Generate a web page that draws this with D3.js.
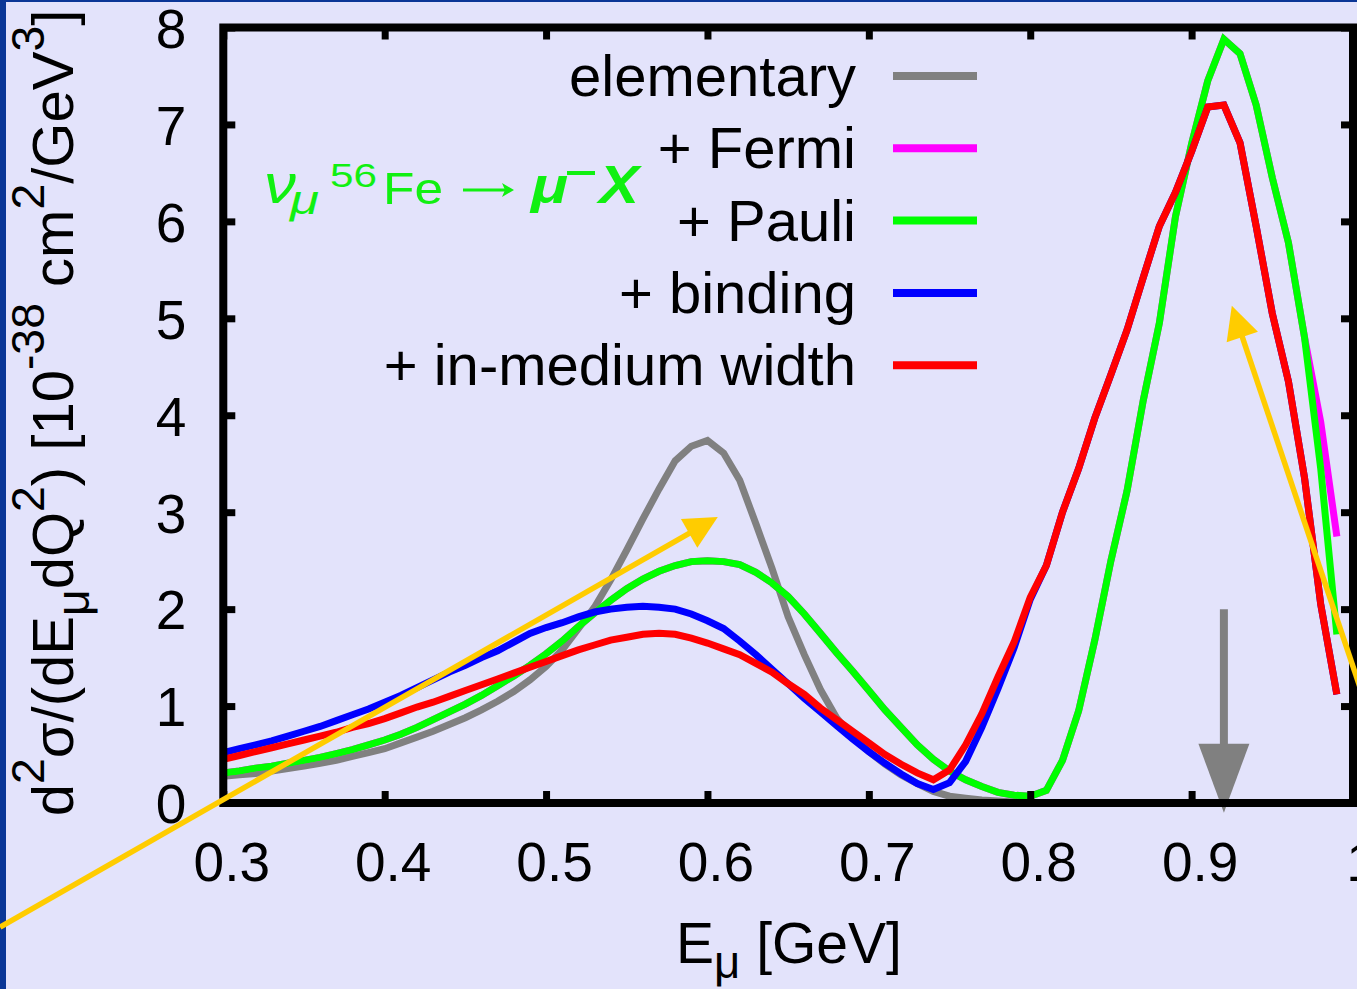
<!DOCTYPE html>
<html><head><meta charset="utf-8">
<script src="https://cdn.jsdelivr.net/npm/d3@7"></script>
<style>
html,body{margin:0;padding:0;background:#e3e3fb;overflow:hidden;}
svg{display:block;}
text{font-family:"Liberation Sans",Arial,Helvetica,sans-serif;fill:#000;}
</style></head><body>
<svg id="chart" width="1357" height="989"></svg>
<script>
// ---------------- data ----------------
const energies = [0.30,0.31,0.32,0.33,0.34,0.35,0.36,0.37,0.38,0.39,
  0.40,0.41,0.42,0.43,0.44,0.45,0.46,0.47,0.48,0.49,
  0.50,0.51,0.52,0.53,0.54,0.55,0.56,0.57,0.58,0.59,
  0.60,0.61,0.62,0.63,0.64,0.65,0.66,0.67,0.68,0.69,
  0.70,0.71,0.72,0.73,0.74,0.75,0.76,0.77,0.78,0.79,
  0.80,0.81,0.82,0.83,0.84,0.85,0.86,0.87,0.88,0.89,
  0.90,0.91,0.92,0.93,0.94,0.95,0.96,0.97,0.98,0.99];

const elementary = [0.275,0.29,0.305,0.33,0.355,0.38,0.41,0.44,0.48,0.52,
  0.56,0.62,0.68,0.74,0.81,0.88,0.96,1.05,1.15,1.27,
  1.41,1.58,1.80,2.02,2.30,2.61,2.93,3.24,3.53,3.68,
  3.74,3.61,3.33,2.88,2.42,1.92,1.53,1.17,0.88,0.68,
  0.53,0.40,0.29,0.20,0.12,0.07,0.05,0.03,0.02,0.01,
  0,0,0,0,0,0,0,0,0,0,
  0,0,0,0,0,0,0,0,0,0];

const fermi = [0.31,0.33,0.36,0.38,0.41,0.44,0.47,0.51,0.55,0.60,
  0.65,0.71,0.78,0.86,0.94,1.02,1.11,1.21,1.31,1.42,
  1.54,1.67,1.82,1.96,2.09,2.21,2.31,2.39,2.45,2.49,
  2.50,2.49,2.46,2.38,2.27,2.13,1.95,1.75,1.55,1.36,
  1.16,0.96,0.78,0.60,0.45,0.33,0.24,0.17,0.11,0.08,
  0.07,0.13,0.44,0.95,1.68,2.50,3.22,4.15,4.95,6.05,
  6.80,7.45,7.88,7.73,7.20,6.45,5.78,4.80,3.93,2.75];

const pauli = [0.31,0.33,0.36,0.38,0.41,0.44,0.47,0.51,0.55,0.60,
  0.65,0.71,0.78,0.86,0.94,1.02,1.11,1.21,1.31,1.42,
  1.54,1.67,1.82,1.96,2.09,2.21,2.31,2.39,2.45,2.49,
  2.50,2.49,2.46,2.38,2.27,2.13,1.95,1.75,1.55,1.36,
  1.16,0.96,0.78,0.60,0.45,0.33,0.24,0.17,0.11,0.08,
  0.07,0.13,0.44,0.95,1.68,2.50,3.22,4.15,4.95,6.05,
  6.80,7.45,7.88,7.73,7.20,6.45,5.78,4.80,3.45,1.74];

const binding = [0.52,0.56,0.60,0.64,0.69,0.74,0.79,0.85,0.91,0.97,
  1.04,1.11,1.19,1.27,1.35,1.42,1.50,1.57,1.66,1.75,
  1.81,1.86,1.92,1.97,2.00,2.02,2.03,2.02,2.00,1.95,
  1.88,1.80,1.67,1.53,1.38,1.23,1.08,0.94,0.80,0.66,
  0.53,0.41,0.30,0.20,0.14,0.21,0.43,0.78,1.18,1.60,
  2.10,2.45,3.00,3.45,3.97,4.42,4.88,5.42,5.95,6.30,
  6.72,7.18,7.20,6.81,5.95,5.05,4.35,3.35,2.05,1.12];

const inMedium = [0.45,0.49,0.53,0.57,0.61,0.65,0.69,0.73,0.78,0.82,
  0.87,0.93,0.99,1.04,1.10,1.16,1.22,1.28,1.34,1.40,
  1.46,1.52,1.58,1.63,1.68,1.71,1.74,1.75,1.74,1.70,
  1.65,1.59,1.53,1.44,1.35,1.23,1.12,0.98,0.86,0.74,
  0.62,0.50,0.40,0.31,0.24,0.34,0.60,0.92,1.30,1.66,
  2.12,2.45,3.00,3.45,3.97,4.42,4.88,5.42,5.95,6.30,
  6.72,7.18,7.20,6.81,5.95,5.05,4.35,3.35,2.05,1.12];

const seriesNames = ["elementary", "+ Fermi", "+ Pauli", "+ binding", "+ in-medium width"];
const seriesValues = [elementary, fermi, pauli, binding, inMedium];
const seriesColors = ["#808080", "#ff00ff", "#00ff00", "#0000ff", "#ff0000"];

const xTicks = [0.3, 0.4, 0.5, 0.6, 0.7, 0.8, 0.9, 1.0];
const xTickLabels = ["0.3", "0.4", "0.5", "0.6", "0.7", "0.8", "0.9", "1"];
const yTicks = [0, 1, 2, 3, 4, 5, 6, 7, 8];
const yTickLabels = ["0", "1", "2", "3", "4", "5", "6", "7", "8"];

// annotation arrows (data coordinates): [x0, y0, x1, y1]
const yellowArrows = [[0.1617, -1.28, 0.6064, 2.95], [1.0165, 0.59, 0.9249, 5.13]];
const greyArrow = [0.92, 2.0, 0.92, -0.10];

// ---------------- layout ----------------
const svg = d3.select("#chart");
const W = 1357, H = 989;
const x = d3.scaleLinear().domain([0.3, 1.0]).range([223.3, 1353]);
const y = d3.scaleLinear().domain([0, 8]).range([803, 27.5]);

svg.append("rect").attr("width", W).attr("height", H).attr("fill", "#e3e3fb");
svg.append("rect").attr("x", 0).attr("y", 0).attr("width", 6).attr("height", H).attr("fill", "#0a3696");
svg.append("rect").attr("x", 0).attr("y", 0).attr("width", W).attr("height", 2).attr("fill", "#0a3696");

// curves
const line = d3.line().x((d, i) => x(energies[i])).y(d => y(d)).curve(d3.curveLinear);
seriesValues.forEach((vals, k) => {
  svg.append("path").datum(vals)
    .attr("d", line)
    .attr("fill", "none")
    .attr("stroke", seriesColors[k])
    .attr("stroke-width", 7)
    .attr("stroke-linejoin", "miter")
    .attr("stroke-miterlimit", 10);
});

function arrow(g, a, color, width, headLen, headHalf) {
  const x0 = x(a[0]), y0 = y(a[1]), x1 = x(a[2]), y1 = y(a[3]);
  const dx = x1 - x0, dy = y1 - y0, L = Math.hypot(dx, dy);
  const ux = dx / L, uy = dy / L;
  const bx = x1 - ux * headLen, by = y1 - uy * headLen;
  g.append("line").attr("x1", x0).attr("y1", y0).attr("x2", bx + ux * 2).attr("y2", by + uy * 2)
    .attr("stroke", color).attr("stroke-width", width);
  g.append("path")
    .attr("d", `M${x1},${y1}L${bx - uy * headHalf},${by + ux * headHalf}L${bx + uy * headHalf},${by - ux * headHalf}Z`)
    .attr("fill", color);
}
// grey arrow (under frame)
arrow(svg.append("g"), greyArrow, "#808080", 8, 69, 25.5);

// axes
const gb = svg.append("g").attr("transform", `translate(0,${y(0)})`)
  .call(d3.axisBottom(x).tickValues(xTicks).tickSize(-12).tickFormat((d, i) => xTickLabels[i]));
const gt = svg.append("g").attr("transform", `translate(0,${y(8)})`)
  .call(d3.axisTop(x).tickValues(xTicks).tickSize(-12).tickFormat(""));
const gl = svg.append("g").attr("transform", `translate(${x(0.3)},0)`)
  .call(d3.axisLeft(y).tickValues(yTicks).tickSize(-12).tickFormat((d, i) => yTickLabels[i]));
const gr = svg.append("g").attr("transform", `translate(${x(1.0)},0)`)
  .call(d3.axisRight(y).tickValues(yTicks).tickSize(-12).tickFormat(""));
[gb, gt, gl, gr].forEach(g => {
  g.select(".domain").remove();
  g.selectAll(".tick line").attr("stroke", "#000").attr("stroke-width", 7);
});
gb.selectAll(".tick text").attr("font-size", 55).attr("y", 78).attr("dy", null).attr("dx", 8)
  .attr("fill", "#000").attr("font-family", "Liberation Sans, Arial, sans-serif");
gl.selectAll(".tick text").attr("font-size", 55).attr("x", -37).attr("dy", "0.36em")
  .attr("fill", "#000").attr("font-family", "Liberation Sans, Arial, sans-serif");
gt.selectAll(".tick text").remove();
gr.selectAll(".tick text").remove();

svg.append("rect").attr("x", x(0.3)).attr("y", y(8))
  .attr("width", x(1.0) - x(0.3)).attr("height", y(0) - y(8))
  .attr("fill", "none").attr("stroke", "#000").attr("stroke-width", 8);

// yellow arrows on top
yellowArrows.forEach(a => arrow(svg.append("g"), a, "#ffcc00", 5.5, 33, 16.5));

// legend
const leg = svg.append("g");
seriesNames.forEach((name, i) => {
  const ly = 76 + i * 72.3;
  leg.append("line").attr("x1", 893).attr("x2", 977).attr("y1", ly).attr("y2", ly)
    .attr("stroke", seriesColors[i]).attr("stroke-width", 8);
  leg.append("text").attr("x", 856).attr("y", ly + 20).attr("text-anchor", "end")
    .attr("font-size", 58).text(name);
});

// rich text helper
function rich(t, parts, size) {
  let shift = 0;
  parts.forEach(p => {
    const target = p.sup ? -0.5 * size : (p.sub ? 0.27 * size : 0);
    const ts = t.append("tspan").text(p.t).attr("dy", target - shift);
    if (p.sup || p.sub) ts.attr("font-size", size * 0.8);
    shift = target;
  });
  return t;
}

// y title
const yt = svg.append("text").attr("transform", "translate(73,413) rotate(-90)")
  .attr("text-anchor", "middle").attr("font-size", 58);
rich(yt, [{t: "d"}, {t: "2", sup: 1}, {t: "σ/(dE"}, {t: "μ", sub: 1}, {t: "dQ"}, {t: "2", sup: 1},
  {t: ") [10"}, {t: "-38", sup: 1}, {t: " cm"}, {t: "2", sup: 1}, {t: "/GeV"}, {t: "3", sup: 1}, {t: "]"}], 58);

// x title
const xt = svg.append("text").attr("x", 789).attr("y", 963).attr("text-anchor", "middle").attr("font-size", 57);
rich(xt, [{t: "E"}, {t: "μ", sub: 1}, {t: " [GeV]"}], 57);

// reaction annotation
const green = "#11f011";
const ann = svg.append("g");
function annText(txt, x0, base, size, width, opts) {
  const t = ann.append("text").attr("x", x0).attr("y", base).attr("font-size", size)
    .attr("textLength", width).attr("lengthAdjust", "spacingAndGlyphs")
    .style("fill", green).text(txt);
  if (opts && opts.serif) t.attr("font-family", "Liberation Serif, serif");
  if (opts && opts.italic) t.attr("font-style", "italic");
  if (opts && opts.bold) t.attr("font-weight", "bold");
  return t;
}
annText("ν", 264, 203, 54, 32, {serif: 1, italic: 1});
annText("μ", 290, 214, 40, 29, {serif: 1, italic: 1});
annText("56", 330, 187, 33, 47);
annText("Fe", 383, 204, 45, 60);
// arrow glyph
ann.append("path").attr("d", "M463,190L508,190").attr("stroke", green).attr("stroke-width", 3).attr("fill", "none");
ann.append("path").attr("d", "M514,190L502,183L505,190L502,197Z").attr("fill", green);
annText("μ", 531, 203, 50, 37, {serif: 1, italic: 1, bold: 1});
ann.append("rect").attr("x", 567).attr("y", 171).attr("width", 28).attr("height", 4).attr("fill", green);
annText("X", 599, 203, 54, 40, {serif: 1, italic: 1, bold: 1});
</script>
</body></html>
